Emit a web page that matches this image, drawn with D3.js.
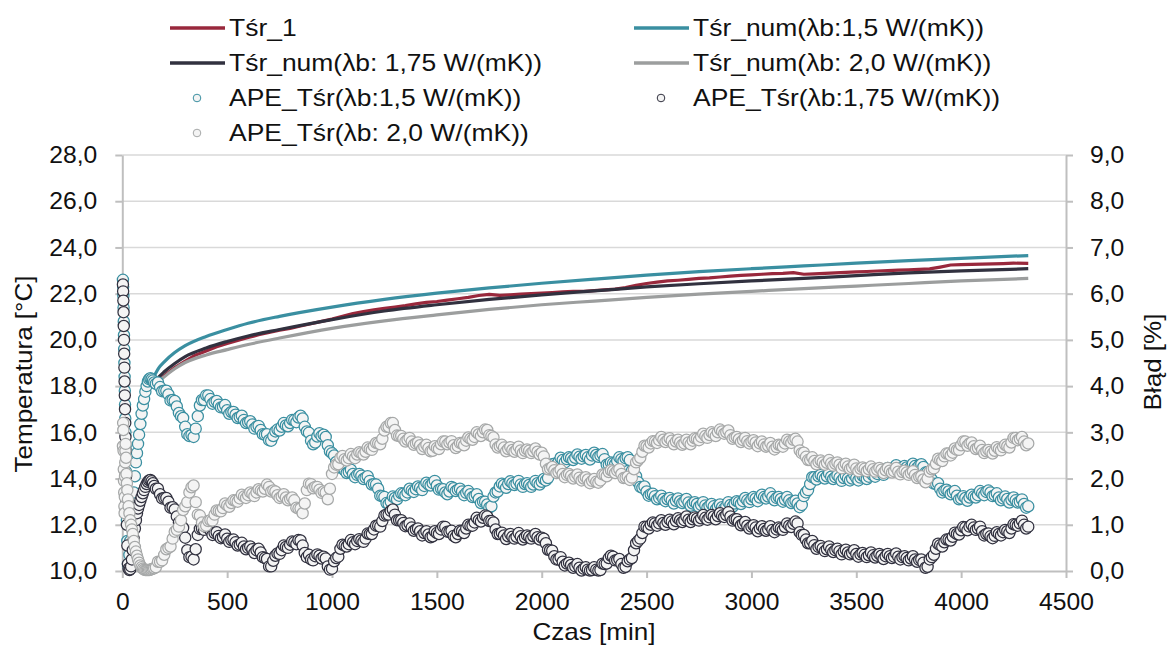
<!DOCTYPE html>
<html>
<head>
<meta charset="utf-8">
<script src="https://cdn.jsdelivr.net/npm/d3@7"></script>
<style>
  body { margin: 0; background: #ffffff; }
  svg { display: block; }
  svg text { font-family: "Liberation Sans", Arimo, Arial, "DejaVu Sans", sans-serif; fill: #111; }
</style>
</head>
<body>
<svg id="chart" width="1169" height="646"></svg>
<script>
// ---- measured mean temperature (Tśr_1) ----
const measuredMinutes = [150,200,250,300,350,400,450,500,550,600,650,700,750,800,850,900,950,1000,
  1050,1100,1150,1200,1250,1300,1350,1400,1450,1500,1550,1600,1650,1700,1750,1800,1850,1900,1950,2000,
  2050,2100,2150,2200,2250,2300,2350,2400,2450,2500,2550,2600,2650,2700,2750,2800,2850,2900,2950,3000,
  3050,3100,3150,3200,3250,3300,3350,3400,3450,3500,3550,3600,3650,3700,3750,3800,3850,3900,3950,4000,
  4050,4100,4150,4200,4250,4320];
const measuredTemp = [18.00,18.45,18.80,19.08,19.35,19.52,19.70,19.85,19.98,20.10,20.22,20.32,20.42,20.50,20.60,20.70,20.80,20.90,
  21.02,21.14,21.22,21.30,21.36,21.42,21.48,21.56,21.62,21.66,21.72,21.78,21.84,21.92,21.97,21.93,21.95,21.98,22.00,22.02,
  22.05,22.08,22.10,22.10,22.13,22.16,22.20,22.26,22.36,22.44,22.50,22.55,22.58,22.62,22.66,22.68,22.72,22.76,22.79,22.81,
  22.84,22.87,22.88,22.91,22.84,22.86,22.88,22.90,22.92,22.94,22.96,22.98,23.00,23.02,23.03,23.05,23.07,23.15,23.24,23.26,
  23.27,23.28,23.29,23.30,23.32,23.31];

// ---- numerical mean temperature for three conductivities ----
const numMinutes = [150,175,200,250,300,400,500,600,750,1000,1250,1500,1750,2000,2250,2500,2750,3000,3250,3500,3750,4000,4320];
const numTemp150 = [18.40,18.80,19.05,19.45,19.75,20.15,20.45,20.72,21.02,21.42,21.75,22.02,22.25,22.45,22.63,22.80,22.95,23.08,23.20,23.32,23.43,23.53,23.65];
const numTemp175 = [18.10,18.40,18.62,18.98,19.28,19.65,19.93,20.17,20.45,20.88,21.25,21.52,21.75,21.95,22.12,22.29,22.43,22.55,22.66,22.78,22.90,22.99,23.08];
const numTemp200 = [17.95,18.20,18.40,18.75,19.02,19.35,19.58,19.80,20.08,20.50,20.82,21.08,21.32,21.52,21.68,21.84,21.98,22.10,22.22,22.33,22.44,22.55,22.66];

// ---- absolute percentage error samples ----
// first minutes are logged irregularly, afterwards every 10 min (160 ... 4320)
const apeEarlyMinutes = [3,4,5,6,7,8,9,10,11,12,13,14,15,16,18,20,22,24,27,30,34,38,42,46,50,55,60,65,70,75,80,86,92,98,104,110,116,122,128,134,140,146,152];
const apeRegularMinutes = d3.range(160, 4321, 10);

const ape150Early = [6.30,6.15,5.95,5.70,5.40,5.10,4.80,4.50,4.20,3.90,3.60,3.30,3.00,2.70,2.15,1.60,1.10,0.65,0.15,0.10,
  0.35,0.65,0.95,1.20,1.40,1.70,2.05,2.35,2.55,2.75,2.95,3.18,3.40,3.58,3.72,3.88,4.00,4.10,4.15,4.17,4.15,4.12,4.08];
const ape150 = [
  4.05,4.08,3.98,3.89,3.90,3.90,3.82,3.69,3.70,3.68,3.56,3.42,3.35,3.31,3.12,2.96,2.92,2.94,2.90,3.08,
  3.35,3.58,3.70,3.70,3.80,3.80,3.72,3.62,3.66,3.68,3.60,3.54,3.55,3.59,3.48,3.40,3.44,3.44,3.38,3.31,
  3.33,3.36,3.27,3.20,3.22,3.24,3.17,3.08,3.12,3.14,3.05,2.96,2.95,2.96,2.83,2.82,2.92,3.02,3.06,3.04,
  3.12,3.20,3.15,3.13,3.20,3.27,3.26,3.22,3.32,3.36,3.30,3.12,3.02,2.99,2.82,2.74,2.78,2.91,2.98,2.92,
  2.95,2.90,2.72,2.59,2.55,2.50,2.36,2.24,2.25,2.27,2.18,2.12,2.14,2.19,2.10,2.03,2.08,2.10,2.06,1.99,
  2.02,2.05,1.95,1.87,1.88,1.87,1.78,1.63,1.62,1.60,1.47,1.45,1.50,1.61,1.58,1.55,1.63,1.68,1.67,1.64,
  1.70,1.78,1.74,1.71,1.77,1.83,1.80,1.75,1.84,1.91,1.87,1.85,1.90,1.95,1.85,1.76,1.78,1.77,1.70,1.66,
  1.72,1.82,1.79,1.73,1.76,1.78,1.72,1.64,1.69,1.73,1.66,1.60,1.62,1.66,1.56,1.47,1.50,1.50,1.44,1.37,
  1.40,1.61,1.70,1.72,1.83,1.89,1.86,1.80,1.88,1.94,1.90,1.86,1.89,1.95,1.87,1.82,1.88,1.90,1.86,1.82,
  1.87,1.95,1.90,1.87,1.93,1.99,1.96,2.01,2.20,2.31,2.32,2.30,2.36,2.45,2.40,2.35,2.42,2.46,2.44,2.40,
  2.45,2.52,2.47,2.43,2.48,2.51,2.46,2.41,2.50,2.56,2.51,2.47,2.50,2.53,2.42,2.30,2.30,2.35,2.33,2.31,
  2.38,2.46,2.42,2.38,2.44,2.46,2.40,2.17,2.08,2.05,1.92,1.82,1.80,1.83,1.72,1.63,1.66,1.67,1.62,1.55,
  1.58,1.63,1.56,1.51,1.55,1.58,1.53,1.46,1.52,1.57,1.51,1.47,1.50,1.56,1.48,1.41,1.46,1.49,1.45,1.39,
  1.43,1.49,1.42,1.37,1.41,1.45,1.40,1.33,1.39,1.44,1.38,1.35,1.40,1.49,1.43,1.39,1.46,1.51,1.49,1.45,
  1.51,1.58,1.53,1.49,1.55,1.60,1.57,1.51,1.59,1.65,1.60,1.57,1.61,1.68,1.60,1.53,1.58,1.60,1.56,1.50,
  1.54,1.60,1.53,1.47,1.50,1.52,1.46,1.38,1.43,1.62,1.70,1.75,1.88,2.03,2.03,1.98,2.05,2.08,2.04,2.00,
  2.05,2.11,2.04,1.99,2.03,2.07,2.02,1.95,2.01,2.06,2.00,1.96,2.00,2.08,2.01,1.96,2.02,2.06,2.03,1.99,
  2.04,2.12,2.07,2.04,2.10,2.16,2.13,2.08,2.16,2.23,2.19,2.16,2.21,2.29,2.22,2.17,2.23,2.27,2.24,2.20,
  2.25,2.32,2.27,2.23,2.28,2.31,2.25,2.13,2.14,2.11,1.98,1.89,1.88,1.90,1.78,1.70,1.74,1.76,1.72,1.66,
  1.70,1.73,1.63,1.55,1.57,1.62,1.58,1.52,1.59,1.65,1.61,1.59,1.64,1.73,1.68,1.64,1.71,1.74,1.70,1.62,
  1.64,1.68,1.59,1.53,1.57,1.61,1.56,1.48,1.54,1.59,1.53,1.48,1.50,1.55,1.45,1.37,1.40];

const ape175Early = [6.20,6.05,5.85,5.60,5.30,5.00,4.70,4.40,4.10,3.80,3.50,3.20,2.90,2.60,2.05,1.50,1.00,0.55,0.15,0.05,
  0.02,0.04,0.10,0.25,0.45,0.70,0.92,1.10,1.25,1.35,1.43,1.52,1.60,1.68,1.75,1.82,1.88,1.93,1.96,1.97,1.94,1.90,1.84];
const ape175 = [
  1.78,1.78,1.66,1.57,1.58,1.58,1.50,1.37,1.38,1.33,1.18,1.05,1.00,0.93,0.72,0.45,0.30,0.31,0.25,0.47,
  0.78,0.91,0.92,0.89,0.95,0.96,0.88,0.78,0.82,0.84,0.76,0.71,0.73,0.79,0.70,0.63,0.67,0.68,0.62,0.55,
  0.57,0.61,0.53,0.47,0.50,0.53,0.47,0.39,0.45,0.48,0.40,0.30,0.28,0.26,0.10,0.10,0.22,0.33,0.38,0.37,
  0.45,0.55,0.52,0.50,0.57,0.64,0.62,0.58,0.67,0.66,0.55,0.39,0.30,0.35,0.25,0.23,0.32,0.36,0.33,0.27,
  0.31,0.27,0.10,0.03,0.05,0.21,0.28,0.31,0.48,0.57,0.55,0.53,0.58,0.67,0.62,0.58,0.65,0.69,0.66,0.63,
  0.70,0.81,0.80,0.80,0.90,0.98,0.98,0.96,1.08,1.20,1.22,1.22,1.30,1.33,1.22,1.10,1.10,1.10,1.04,0.97,
  0.99,1.03,0.94,0.87,0.90,0.92,0.86,0.77,0.82,0.86,0.79,0.73,0.75,0.86,0.82,0.80,0.90,0.96,0.95,0.85,
  0.85,0.87,0.76,0.73,0.80,0.87,0.86,0.82,0.92,1.00,0.98,0.98,1.05,1.15,1.10,1.07,1.15,1.20,1.18,1.08,
  1.08,1.05,0.90,0.80,0.80,0.83,0.77,0.69,0.75,0.80,0.74,0.70,0.74,0.82,0.75,0.68,0.73,0.77,0.74,0.70,
  0.75,0.80,0.73,0.68,0.72,0.70,0.60,0.46,0.45,0.44,0.32,0.25,0.25,0.30,0.20,0.12,0.16,0.18,0.13,0.07,
  0.10,0.15,0.07,0.01,0.05,0.08,0.03,0.01,0.02,0.08,0.03,0.01,0.02,0.16,0.15,0.16,0.28,0.33,0.31,0.23,
  0.24,0.26,0.15,0.07,0.09,0.21,0.25,0.28,0.45,0.60,0.65,0.70,0.82,0.96,0.95,0.92,1.00,1.05,1.03,0.98,
  1.03,1.10,1.04,1.00,1.06,1.11,1.07,1.01,1.08,1.14,1.10,1.06,1.10,1.18,1.11,1.06,1.12,1.16,1.13,1.09,
  1.14,1.21,1.15,1.11,1.16,1.21,1.18,1.12,1.19,1.25,1.20,1.17,1.21,1.27,1.18,1.09,1.12,1.12,1.06,0.99,
  1.02,1.06,0.98,0.92,0.96,0.99,0.94,0.86,0.92,0.97,0.91,0.87,0.90,0.97,0.89,0.84,0.90,0.94,0.92,0.89,
  0.95,1.03,0.98,0.95,1.02,1.07,1.03,0.84,0.78,0.78,0.68,0.60,0.60,0.65,0.56,0.48,0.52,0.54,0.49,0.43,
  0.47,0.53,0.46,0.41,0.45,0.48,0.43,0.36,0.42,0.46,0.40,0.36,0.39,0.45,0.37,0.31,0.36,0.39,0.35,0.30,
  0.34,0.40,0.34,0.29,0.33,0.37,0.33,0.26,0.32,0.37,0.32,0.28,0.31,0.38,0.31,0.25,0.30,0.32,0.28,0.23,
  0.27,0.32,0.25,0.20,0.24,0.25,0.18,0.07,0.09,0.25,0.30,0.35,0.48,0.59,0.56,0.53,0.62,0.68,0.68,0.66,
  0.74,0.83,0.80,0.79,0.88,0.95,0.94,0.88,0.96,1.00,0.94,0.89,0.92,0.96,0.86,0.77,0.80,0.81,0.75,0.71,
  0.76,0.84,0.80,0.77,0.84,0.89,0.86,0.82,0.92,1.01,1.00,0.98,1.03,1.09,1.00,0.92,0.96];

const ape200Early = [2.70,3.20,3.05,2.60,2.20,1.95,1.70,1.40,1.25,1.60,2.05,2.35,2.60,2.75,2.45,2.10,1.90,1.75,1.55,1.40,
  1.25,1.10,1.00,0.90,0.80,0.65,0.52,0.42,0.33,0.25,0.18,0.12,0.08,0.05,0.03,0.02,0.02,0.02,0.02,0.03,0.04,0.05,0.06];
const ape200 = [
  0.08,0.20,0.20,0.23,0.35,0.47,0.50,0.53,0.70,0.85,0.89,0.96,1.10,1.32,1.40,1.49,1.70,1.81,1.85,1.49,
  1.22,1.20,1.05,0.97,0.98,1.08,1.10,1.09,1.22,1.31,1.30,1.29,1.36,1.46,1.42,1.39,1.47,1.53,1.52,1.50,
  1.57,1.65,1.61,1.58,1.64,1.70,1.67,1.62,1.70,1.77,1.74,1.72,1.78,1.87,1.82,1.72,1.74,1.72,1.64,1.58,
  1.61,1.66,1.59,1.53,1.56,1.59,1.53,1.37,1.35,1.35,1.25,1.46,1.75,1.89,1.88,1.79,1.82,1.82,1.76,1.69,
  1.72,1.70,1.55,1.78,2.10,2.24,2.30,2.31,2.45,2.49,2.42,2.39,2.44,2.53,2.48,2.44,2.52,2.57,2.55,2.52,
  2.58,2.67,2.64,2.62,2.70,2.77,2.76,2.74,2.86,3.04,3.12,3.12,3.20,3.20,3.05,2.93,2.92,2.92,2.86,2.80,
  2.84,2.88,2.80,2.73,2.76,2.78,2.72,2.64,2.69,2.73,2.66,2.59,2.60,2.70,2.66,2.64,2.74,2.80,2.80,2.74,
  2.78,2.81,2.72,2.66,2.70,2.77,2.76,2.72,2.82,2.89,2.86,2.84,2.90,3.00,2.96,2.92,3.00,3.06,3.05,2.94,
  2.92,2.89,2.74,2.67,2.70,2.73,2.67,2.59,2.64,2.68,2.62,2.58,2.62,2.69,2.61,2.55,2.60,2.63,2.60,2.55,
  2.59,2.65,2.58,2.52,2.56,2.48,2.32,2.20,2.22,2.25,2.18,2.12,2.14,2.19,2.10,2.03,2.08,2.10,2.06,2.00,
  2.04,2.09,2.02,1.96,2.00,2.03,1.98,1.90,1.95,1.99,1.93,1.91,1.96,2.09,2.08,2.05,2.14,2.18,2.16,2.12,
  2.17,2.20,2.10,2.01,2.02,2.04,1.97,2.02,2.20,2.35,2.40,2.45,2.58,2.71,2.70,2.67,2.76,2.81,2.80,2.77,
  2.83,2.90,2.84,2.79,2.83,2.87,2.82,2.74,2.80,2.84,2.78,2.73,2.76,2.84,2.78,2.74,2.82,2.87,2.86,2.83,
  2.90,2.97,2.92,2.88,2.94,3.00,2.97,2.92,3.00,3.06,3.02,2.97,3.00,3.04,2.94,2.86,2.89,2.90,2.85,2.79,
  2.83,2.88,2.81,2.76,2.80,2.83,2.78,2.70,2.76,2.80,2.74,2.69,2.71,2.77,2.69,2.63,2.68,2.73,2.72,2.69,
  2.76,2.84,2.80,2.77,2.84,2.86,2.80,2.61,2.55,2.56,2.47,2.40,2.40,2.46,2.38,2.31,2.36,2.39,2.35,2.30,
  2.34,2.40,2.33,2.28,2.32,2.35,2.30,2.22,2.28,2.32,2.26,2.21,2.24,2.30,2.22,2.16,2.21,2.24,2.21,2.16,
  2.20,2.26,2.20,2.15,2.19,2.23,2.19,2.12,2.18,2.23,2.17,2.13,2.16,2.23,2.15,2.09,2.14,2.17,2.13,2.08,
  2.12,2.16,2.08,2.01,2.04,2.05,1.98,1.92,2.00,2.15,2.20,2.22,2.32,2.43,2.40,2.38,2.48,2.54,2.54,2.50,
  2.56,2.65,2.62,2.62,2.72,2.80,2.80,2.71,2.76,2.78,2.70,2.64,2.66,2.71,2.62,2.55,2.59,2.62,2.58,2.54,
  2.60,2.68,2.64,2.61,2.68,2.73,2.70,2.67,2.78,2.88,2.88,2.83,2.86,2.90,2.80,2.72,2.76];

// ---- axis ticks ----
const tempTicks = [10,12,14,16,18,20,22,24,26,28];
const errorTicks = [0,1,2,3,4,5,6,7,8,9];
const timeTicks = [0,500,1000,1500,2000,2500,3000,3500,4000,4500];

// ---- labels ----
const legendLabels = {
  measured: "Tśr_1",
  num150: "Tśr_num(λb:1,5 W/(mK))",
  num175: "Tśr_num(λb: 1,75 W/(mK))",
  num200: "Tśr_num(λb: 2,0 W/(mK))",
  ape150: "APE_Tśr(λb:1,5 W/(mK))",
  ape175: "APE_Tśr(λb:1,75 W/(mK))",
  ape200: "APE_Tśr(λb: 2,0 W/(mK))"
};

const colors = {
  measured: "#99283c",
  teal: "#3a8fa1",
  dark: "#31313f",
  gray: "#9c9e9e",
  grayMarker: "#a6a8a8",
  grid: "#d9d9d9",
  axis: "#bfbfbf",
  markerFill: "#f4f4f4"
};

const svg = d3.select("#chart");
const plot = { left: 122.3, right: 1066, top: 155, bottom: 571 };

const x = d3.scaleLinear().domain([0, 4500]).range([plot.left, plot.right]);
const yT = d3.scaleLinear().domain([10, 28]).range([plot.bottom, plot.top]);
const yE = d3.scaleLinear().domain([0, 9]).range([plot.bottom, plot.top]);

const fmt1 = d => d.toFixed(1).replace(".", ",");
const fontSize = 24;

// widen glyph runs so the text keeps the broad proportions of the original typeface
function widen(sel, factor) {
  sel.each(function () {
    const w = this.getComputedTextLength();
    d3.select(this).attr("textLength", w * factor).attr("lengthAdjust", "spacingAndGlyphs");
  });
}
function measure(str, size) {
  const t = svg.append("text").attr("font-size", size).text(str);
  const w = t.node().getComputedTextLength();
  t.remove();
  return w;
}
const tickFactor = 48 / measure("28,0", fontSize);
const legendFactor = 313 / measure(legendLabels.num175, fontSize);
const titleFactor = 97 / measure("Błąd [%]", fontSize);

// gridlines
svg.append("g").selectAll("line").data(tempTicks.filter(d => d !== 10)).join("line")
  .attr("x1", plot.left).attr("x2", plot.right)
  .attr("y1", d => yT(d)).attr("y2", d => yT(d))
  .attr("stroke", colors.grid).attr("stroke-width", 1.5);

function styleAxis(g) {
  g.attr("font-family", null);
  g.select(".domain").attr("stroke", colors.axis).attr("stroke-width", 2);
  g.selectAll(".tick line").attr("stroke", colors.axis).attr("stroke-width", 2);
  g.selectAll(".tick text").attr("font-size", fontSize).attr("fill", "#111").call(widen, tickFactor);
}

// left axis
svg.append("g").attr("transform", `translate(${plot.left},0)`)
  .call(d3.axisLeft(yT).tickValues(tempTicks).tickFormat(fmt1).tickSize(7).tickPadding(18).tickSizeOuter(0))
  .call(styleAxis);

// right axis
svg.append("g").attr("transform", `translate(${plot.right},0)`)
  .call(d3.axisRight(yE).tickValues(errorTicks).tickFormat(fmt1).tickSize(7).tickPadding(17).tickSizeOuter(0))
  .call(styleAxis);

// bottom axis
svg.append("g").attr("transform", `translate(0,${plot.bottom})`)
  .call(d3.axisBottom(x).tickValues(timeTicks).tickFormat(d3.format("d")).tickSize(7).tickPadding(15).tickSizeOuter(0))
  .call(styleAxis);

// axis titles
svg.append("text").attr("transform", "translate(32,374) rotate(-90)")
  .attr("text-anchor", "middle").attr("font-size", fontSize).text("Temperatura [°C]").call(widen, titleFactor);
svg.append("text").attr("transform", "translate(1161,362) rotate(-90)")
  .attr("text-anchor", "middle").attr("font-size", fontSize).text("Błąd [%]").call(widen, titleFactor);
svg.append("text").attr("x", 594).attr("y", 640)
  .attr("text-anchor", "middle").attr("font-size", fontSize).text("Czas [min]").call(widen, titleFactor);

// temperature lines
const zip = (xs, ys) => xs.slice(0, Math.min(xs.length, ys.length)).map((t, i) => [t, ys[i]]);
const smoothLine = d3.line().x(d => x(d[0])).y(d => yT(d[1])).curve(d3.curveMonotoneX);
const rawLine = d3.line().x(d => x(d[0])).y(d => yT(d[1]));

const lines = svg.append("g").attr("fill", "none").attr("stroke-width", 3.2).attr("stroke-linejoin", "round");
lines.append("path").attr("d", rawLine(zip(measuredMinutes, measuredTemp))).attr("stroke", colors.measured);
lines.append("path").attr("d", smoothLine(zip(numMinutes, numTemp150))).attr("stroke", colors.teal);
lines.append("path").attr("d", smoothLine(zip(numMinutes, numTemp175))).attr("stroke", colors.dark);
lines.append("path").attr("d", smoothLine(zip(numMinutes, numTemp200))).attr("stroke", colors.gray);

// error markers
const apeMinutes = apeEarlyMinutes.concat(apeRegularMinutes);
const apeSeries = [
  { values: ape150Early.concat(ape150), stroke: colors.teal },
  { values: ape175Early.concat(ape175), stroke: colors.dark },
  { values: ape200Early.concat(ape200), stroke: colors.grayMarker }
];
apeSeries.forEach(s => {
  svg.append("g").selectAll("circle").data(zip(apeMinutes, s.values)).join("circle")
    .attr("cx", d => x(d[0])).attr("cy", d => yE(d[1])).attr("r", 5.6)
    .attr("fill", colors.markerFill).attr("stroke", s.stroke).attr("stroke-width", 1.25);
});

// legend
const legend = svg.append("g");
const legendItems = [
  { label: legendLabels.measured, type: "line", color: colors.measured, col: 0, row: 0 },
  { label: legendLabels.num150, type: "line", color: colors.teal, col: 1, row: 0 },
  { label: legendLabels.num175, type: "line", color: colors.dark, col: 0, row: 1 },
  { label: legendLabels.num200, type: "line", color: colors.gray, col: 1, row: 1 },
  { label: legendLabels.ape150, type: "marker", color: colors.teal, col: 0, row: 2 },
  { label: legendLabels.ape175, type: "marker", color: colors.dark, col: 1, row: 2 },
  { label: legendLabels.ape200, type: "marker", color: colors.grayMarker, col: 0, row: 3 }
];
const colX = [170, 634];
const rowY = [28, 63, 98, 133];
legendItems.forEach(it => {
  const x0 = colX[it.col], yy = rowY[it.row];
  if (it.type === "line") {
    legend.append("line").attr("x1", x0).attr("x2", x0 + 55).attr("y1", yy).attr("y2", yy)
      .attr("stroke", it.color).attr("stroke-width", 3.5);
  } else {
    legend.append("circle").attr("cx", x0 + 27).attr("cy", yy).attr("r", 3.8)
      .attr("fill", colors.markerFill).attr("stroke", it.color).attr("stroke-width", 1);
  }
  legend.append("text").attr("x", x0 + 59).attr("y", yy).attr("dy", "0.35em")
    .attr("font-size", fontSize).text(it.label).call(widen, legendFactor);
});
</script>
</body>
</html>
